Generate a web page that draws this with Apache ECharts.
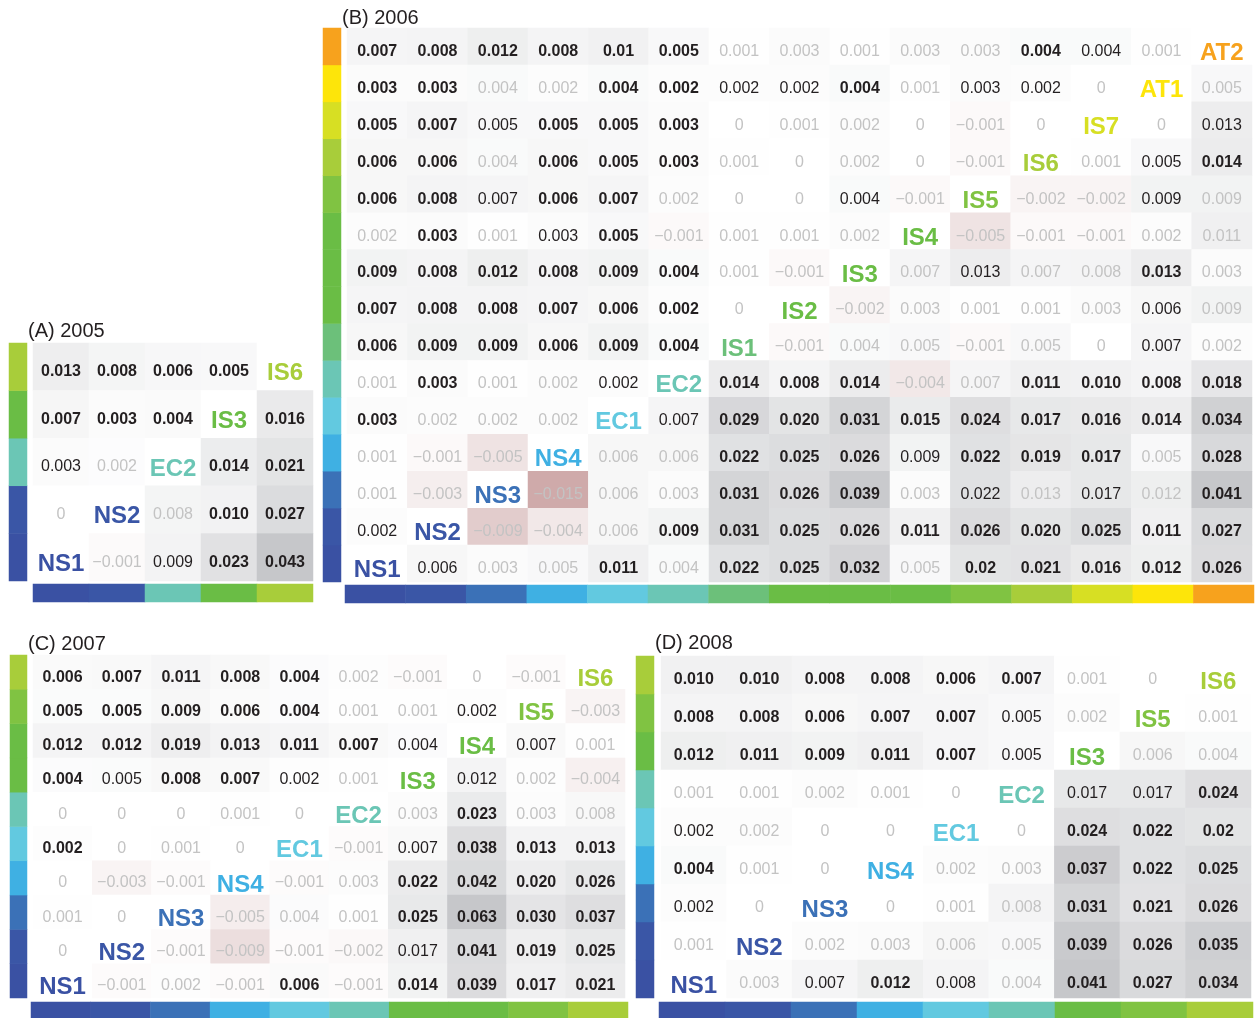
<!DOCTYPE html>
<html><head><meta charset="utf-8">
<script src="https://cdn.jsdelivr.net/npm/echarts@6/dist/echarts.min.js"></script>
<style>html,body{margin:0;padding:0;background:#fff}#c{width:1258px;height:1018px}</style>
</head><body><div id="c"></div><script>
// ---------------- DATA ----------------
// Rows are listed from the top row of each matrix (last population) down to the bottom row (first population).
// Style codes: b = bold black, n = regular black, g = light grey, x = diagonal (population label)
const popsA = ['NS1','NS2','EC2','IS3','IS6'];
const valsA = [
  ['0.013','0.008','0.006','0.005',''],
  ['0.007','0.003','0.004','','0.016'],
  ['0.003','0.002','','0.014','0.021'],
  ['0','','0.008','0.010','0.027'],
  ['','-0.001','0.009','0.023','0.043']
];
const stylesA = ['bbbbx','bbbxb','ngxbb','gxgbb','xgnbb'];

const popsB = ['NS1','NS2','NS3','NS4','EC1','EC2','IS1','IS2','IS3','IS4','IS5','IS6','IS7','AT1','AT2'];
const valsB = [
  ['0.007','0.008','0.012','0.008','0.01','0.005','0.001','0.003','0.001','0.003','0.003','0.004','0.004','0.001',''],
  ['0.003','0.003','0.004','0.002','0.004','0.002','0.002','0.002','0.004','0.001','0.003','0.002','0','','0.005'],
  ['0.005','0.007','0.005','0.005','0.005','0.003','0','0.001','0.002','0','-0.001','0','','0','0.013'],
  ['0.006','0.006','0.004','0.006','0.005','0.003','0.001','0','0.002','0','-0.001','','0.001','0.005','0.014'],
  ['0.006','0.008','0.007','0.006','0.007','0.002','0','0','0.004','-0.001','','-0.002','-0.002','0.009','0.009'],
  ['0.002','0.003','0.001','0.003','0.005','-0.001','0.001','0.001','0.002','','-0.005','-0.001','-0.001','0.002','0.011'],
  ['0.009','0.008','0.012','0.008','0.009','0.004','0.001','-0.001','','0.007','0.013','0.007','0.008','0.013','0.003'],
  ['0.007','0.008','0.008','0.007','0.006','0.002','0','','-0.002','0.003','0.001','0.001','0.003','0.006','0.009'],
  ['0.006','0.009','0.009','0.006','0.009','0.004','','-0.001','0.004','0.005','-0.001','0.005','0','0.007','0.002'],
  ['0.001','0.003','0.001','0.002','0.002','','0.014','0.008','0.014','-0.004','0.007','0.011','0.010','0.008','0.018'],
  ['0.003','0.002','0.002','0.002','','0.007','0.029','0.020','0.031','0.015','0.024','0.017','0.016','0.014','0.034'],
  ['0.001','-0.001','-0.005','','0.006','0.006','0.022','0.025','0.026','0.009','0.022','0.019','0.017','0.005','0.028'],
  ['0.001','-0.003','','-0.015','0.006','0.003','0.031','0.026','0.039','0.003','0.022','0.013','0.017','0.012','0.041'],
  ['0.002','','-0.009','-0.004','0.006','0.009','0.031','0.025','0.026','0.011','0.026','0.020','0.025','0.011','0.027'],
  ['','0.006','0.003','0.005','0.011','0.004','0.022','0.025','0.032','0.005','0.02','0.021','0.016','0.012','0.026']
];
const stylesB = ['bbbbbbgggggbngx','bbggbbnnbgnngxg','bbnbbbggggggxgn','bbgbbbgggggxgnb','bbnbbgggngxggng',
  'gbgnbggggxggggg','bbbbbbggxgnggbg','bbbbbbgxgggggng','bbbbbbxggggggng','gbggnxbbbggbbbb',
  'bgggxnbbbbbbbbb','gggxggbbbnbbbgb','ggxgggbbbgngngb','nxgggbbbbbbbbbb','xnggbgbbbgbbbbb'];

const popsC = ['NS1','NS2','NS3','NS4','EC1','EC2','IS3','IS4','IS5','IS6'];
const valsC = [
  ['0.006','0.007','0.011','0.008','0.004','0.002','-0.001','0','-0.001',''],
  ['0.005','0.005','0.009','0.006','0.004','0.001','0.001','0.002','','-0.003'],
  ['0.012','0.012','0.019','0.013','0.011','0.007','0.004','','0.007','0.001'],
  ['0.004','0.005','0.008','0.007','0.002','0.001','','0.012','0.002','-0.004'],
  ['0','0','0','0.001','0','','0.003','0.023','0.003','0.008'],
  ['0.002','0','0.001','0','','-0.001','0.007','0.038','0.013','0.013'],
  ['0','-0.003','-0.001','','-0.001','0.003','0.022','0.042','0.020','0.026'],
  ['0.001','0','','-0.005','0.004','0.001','0.025','0.063','0.030','0.037'],
  ['0','','-0.001','-0.009','-0.001','-0.002','0.017','0.041','0.019','0.025'],
  ['','-0.001','0.002','-0.001','0.006','-0.001','0.014','0.039','0.017','0.021']
];
const stylesC = ['bbbbbggggx','bbbbbggnxg','bbbbbbnxng','bnbbngxngg','gggggxgbgg',
  'bgggxgnbbb','gggxggbbbb','ggxgggbbbb','gxggggnbbb','xgggbgbbbb'];

const popsD = ['NS1','NS2','NS3','NS4','EC1','EC2','IS3','IS5','IS6'];
const valsD = [
  ['0.010','0.010','0.008','0.008','0.006','0.007','0.001','0',''],
  ['0.008','0.008','0.006','0.007','0.007','0.005','0.002','','0.001'],
  ['0.012','0.011','0.009','0.011','0.007','0.005','','0.006','0.004'],
  ['0.001','0.001','0.002','0.001','0','','0.017','0.017','0.024'],
  ['0.002','0.002','0','0','','0','0.024','0.022','0.02'],
  ['0.004','0.001','0','','0.002','0.003','0.037','0.022','0.025'],
  ['0.002','0','','0','0.001','0.008','0.031','0.021','0.026'],
  ['0.001','','0.002','0.003','0.006','0.005','0.039','0.026','0.035'],
  ['','0.003','0.007','0.012','0.008','0.004','0.041','0.027','0.034']
];
const stylesD = ['bbbbbbggx','bbbbbngxg','bbbbbnxgg','gggggxnnb','ngggxgbbb',
  'bggxggbbb','ngxgggbbb','gxggggbbb','xgnbngbbb'];

const titles = ['(A) 2005','(B) 2006','(C) 2007','(D) 2008'];

// ---------------- STYLE / LAYOUT ----------------
const popColor = {NS1:'#3a51a3',NS2:'#3a56a6',NS3:'#3b71b7',NS4:'#3fb0e3',EC1:'#62c9e0',EC2:'#6bc6b5',
  IS1:'#6cc07a',IS2:'#6abd45',IS3:'#6abd45',IS4:'#6abd45',IS5:'#80c342',IS6:'#a8cd3a',IS7:'#d7df23',
  AT1:'#fde50a',AT2:'#f7a21d'};
const FONT = '"Liberation Sans", Arial, Helvetica, sans-serif';
const layout = [
  {title:[28,321], grid:[33,343,280,238], left:[9,343,18,238], bottom:[33,584,280,18]},
  {title:[342,8],  grid:[347,28,905,554], left:[323,28,18,554], bottom:[345,585,909,18]},
  {title:[28,634], grid:[33,655,592,343], left:[10,655,17,343], bottom:[31,1002,597,16]},
  {title:[655,633],grid:[661,656,590,342],left:[636,656,18,342],bottom:[659,1002,594,16]}
];
const panels = [
  {pops:popsA, vals:valsA, styles:stylesA},
  {pops:popsB, vals:valsB, styles:stylesB},
  {pops:popsC, vals:valsC, styles:stylesC},
  {pops:popsD, vals:valsD, styles:stylesD}
];

const rich = {
  b:{fontFamily:FONT,fontSize:16,fontWeight:'bold',color:'#231f20'},
  n:{fontFamily:FONT,fontSize:16,fontWeight:'normal',color:'#231f20'},
  g:{fontFamily:FONT,fontSize:16,fontWeight:'normal',color:'#c3c3c3'}
};
Object.keys(popColor).forEach(k=>{
  rich[k] = {fontFamily:FONT,fontSize:24,fontWeight:'bold',color:popColor[k],padding:[4,0,0,0]};
});

const option = {backgroundColor:'#fff', animation:false, title:[], grid:[], xAxis:[], yAxis:[], series:[], visualMap:[]};
const hidden = {show:false};

panels.forEach((p, pi)=>{
  const L = layout[pi];
  const n = p.pops.length;
  option.title.push({text:titles[pi], left:L.title[0], top:L.title[1], padding:0,
    textStyle:{fontFamily:FONT,fontSize:20,fontWeight:'normal',color:'#231f20'}});
  const gBase = option.grid.length;
  [L.grid, L.left, L.bottom].forEach(g=>option.grid.push({left:g[0],top:g[1],width:g[2],height:g[3]}));
  option.xAxis.push({type:'category', gridIndex:gBase, data:p.pops, ...hidden});
  option.yAxis.push({type:'category', gridIndex:gBase, data:p.pops, ...hidden});
  option.xAxis.push({type:'category', gridIndex:gBase+1, data:['c'], ...hidden});
  option.yAxis.push({type:'category', gridIndex:gBase+1, data:p.pops, ...hidden});
  option.xAxis.push({type:'category', gridIndex:gBase+2, data:p.pops, ...hidden});
  option.yAxis.push({type:'category', gridIndex:gBase+2, data:['c'], ...hidden});

  const data = [];
  let M = 0;
  p.vals.forEach((row, r)=>{
    const y = n-1-r;
    row.forEach((s, c)=>{
      const v = s === '' ? 0 : parseFloat(s);
      M = Math.max(M, Math.abs(v));
      data.push([c, y, v, r]);
    });
  });
  const vals = p.vals, styles = p.styles, pops = p.pops;
  const si = option.series.length;
  option.series.push({
    type:'heatmap', xAxisIndex:gBase, yAxisIndex:gBase, data:data,
    emphasis:{disabled:true},
    label:{show:true, offset:[0,5], rich:rich, formatter:function(prm){
      const c = prm.data[0], r = prm.data[3];
      const st = styles[r][c];
      if (st === 'x') return '{' + pops[c] + '|' + pops[c] + '}';
      return '{' + st + '|' + vals[r][c].replace('-', '\u2212') + '}';
    }}
  });
  option.visualMap.push({type:'continuous', show:false, seriesIndex:si, dimension:2,
    min:-M, max:M, inRange:{color:['#7c1717','#ffffff','#c6c7ca']}});
  option.series.push({
    type:'heatmap', xAxisIndex:gBase+1, yAxisIndex:gBase+1, emphasis:{disabled:true},
    data:pops.map((k,i)=>({value:[0,i,1], itemStyle:{color:popColor[k]}}))
  });
  option.series.push({
    type:'heatmap', xAxisIndex:gBase+2, yAxisIndex:gBase+2, emphasis:{disabled:true},
    data:pops.map((k,i)=>({value:[i,0,1], itemStyle:{color:popColor[k]}}))
  });
});

const chart = echarts.init(document.getElementById('c'), null, {renderer:'canvas'});
chart.setOption(option);
</script></body></html>
